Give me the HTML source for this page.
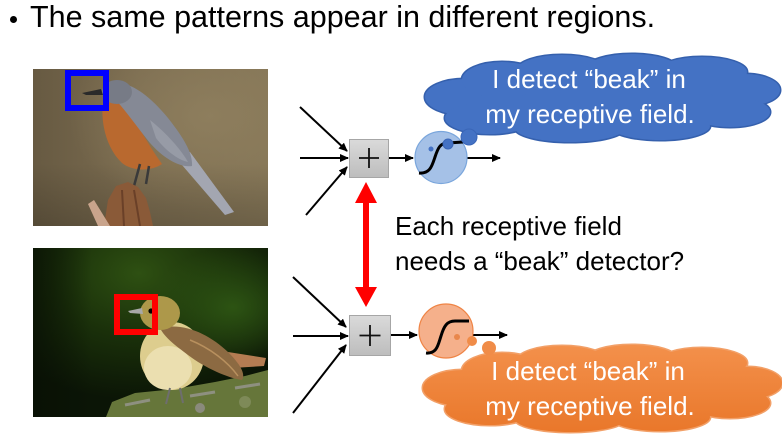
<!DOCTYPE html>
<html>
<head>
<meta charset="utf-8">
<style>
html,body{margin:0;padding:0;background:#fff;}
body{width:782px;height:436px;overflow:hidden;}
svg{display:block;}
text{font-family:"Liberation Sans",Arial,sans-serif;}
</style>
</head>
<body>
<svg width="782" height="436" viewBox="0 0 782 436" xmlns="http://www.w3.org/2000/svg">
<defs>
  <marker id="ah" markerWidth="9" markerHeight="8" refX="8" refY="4" orient="auto" markerUnits="userSpaceOnUse">
    <path d="M0,0 L9,4 L0,8 z" fill="#000"/>
  </marker>
  <linearGradient id="bg1" x1="0" y1="0" x2="1" y2="0">
    <stop offset="0" stop-color="#675a42"/>
    <stop offset="0.45" stop-color="#7b6c50"/>
    <stop offset="1" stop-color="#857657"/>
  </linearGradient>
  <radialGradient id="bg1r" cx="0.75" cy="0.3" r="0.6">
    <stop offset="0" stop-color="#8f7f5e" stop-opacity="0.9"/>
    <stop offset="1" stop-color="#8f7f5e" stop-opacity="0"/>
  </radialGradient>
  <linearGradient id="bg1b" x1="0" y1="0" x2="0" y2="1">
    <stop offset="0.6" stop-color="#000" stop-opacity="0"/>
    <stop offset="1" stop-color="#000" stop-opacity="0.18"/>
  </linearGradient>
  <radialGradient id="bg2" cx="0.45" cy="0.15" r="0.75">
    <stop offset="0" stop-color="#2e5012"/>
    <stop offset="0.5" stop-color="#1a300a"/>
    <stop offset="1" stop-color="#0b1506"/>
  </radialGradient>
  <radialGradient id="bg2b" cx="0.85" cy="0.35" r="0.35">
    <stop offset="0" stop-color="#2f5814" stop-opacity="0.9"/>
    <stop offset="1" stop-color="#2f5814" stop-opacity="0"/>
  </radialGradient>
  <linearGradient id="bg2l" x1="0" y1="0" x2="1" y2="0">
    <stop offset="0" stop-color="#080f04" stop-opacity="0.7"/>
    <stop offset="0.25" stop-color="#080f04" stop-opacity="0"/>
  </linearGradient>
  <linearGradient id="gbox" x1="0" y1="0" x2="0" y2="1">
    <stop offset="0" stop-color="#dadada"/>
    <stop offset="1" stop-color="#bdbdbd"/>
  </linearGradient>
  <linearGradient id="gor" gradientUnits="userSpaceOnUse" x1="0" y1="55" x2="0" y2="142">
    <stop offset="0" stop-color="#f3904b"/>
    <stop offset="1" stop-color="#e9772a"/>
  </linearGradient>
  <clipPath id="c1"><rect x="33" y="69" width="235" height="157"/></clipPath>
  <clipPath id="c2"><rect x="33" y="248" width="235" height="169"/></clipPath>
</defs>

<!-- Title -->
<circle cx="13.5" cy="19.5" r="3.5" fill="#000"/>
<text x="30" y="27" font-size="30.5" fill="#000">The same patterns appear in different regions.</text>

<!-- Image 1 -->
<g clip-path="url(#c1)">
  <rect x="33" y="69" width="235" height="157" fill="url(#bg1)"/>
  <rect x="33" y="69" width="235" height="157" fill="url(#bg1r)"/>
  <rect x="33" y="69" width="235" height="157" fill="url(#bg1b)"/>
  <!-- tail -->
  <polygon points="176,158 190,152 234,212 225,215" fill="#a3a6b1"/>
  <!-- orange breast -->
  <path d="M104,96 C99,120 106,148 122,163 C133,172 152,171 162,164 C152,150 140,130 130,112 C121,101 112,96 104,96 Z" fill="#b9692f"/>
  <!-- gray back/wing -->
  <path d="M108,84 C128,78 150,96 168,118 C182,136 193,152 192,166 C180,168 163,158 150,143 C137,127 124,108 112,96 Z" fill="#858995"/>
  <path d="M150,120 C165,132 180,148 188,162 C178,160 165,150 156,138 Z" fill="#979ba6"/>
  <!-- head -->
  <ellipse cx="117" cy="92" rx="15" ry="12" fill="#777b86"/>
  <polygon points="82,93 101,89 103,95 86,95" fill="#2a2a2a"/>
  <circle cx="106" cy="91" r="1.8" fill="#1a1a1a"/>
  <!-- legs -->
  <path d="M140,164 L134,186 M149,166 L146,184" stroke="#3a3a3a" stroke-width="2.5"/>
  <!-- stump -->
  <polygon points="104,226 108,200 116,186 128,182 138,187 146,198 150,212 153,226" fill="#8a5a38"/>
  <polygon points="88,204 94,200 110,226 98,226" fill="#c9a48c"/>
  <path d="M122,190 L124,226 M134,190 L140,226" stroke="#6a4028" stroke-width="2"/>
  <!-- blue box -->
  <rect x="68" y="73" width="38" height="35" fill="none" stroke="#0000ff" stroke-width="6"/>
</g>

<!-- Image 2 -->
<g clip-path="url(#c2)">
  <rect x="33" y="248" width="235" height="169" fill="url(#bg2)"/>
  <rect x="33" y="248" width="235" height="169" fill="url(#bg2b)"/>
  <rect x="33" y="248" width="235" height="169" fill="url(#bg2l)"/>
  <!-- rock -->
  <polygon points="106,417 112,402 135,393 175,389 215,382 245,376 268,370 268,417" fill="#66763a"/>
  <path d="M125,405 L150,400 M190,396 L215,392 M235,388 L260,384" stroke="#8e9080" stroke-width="3"/>
  <circle cx="200" cy="408" r="5" fill="#8a8a7c"/>
  <circle cx="245" cy="402" r="6" fill="#7e8a58"/>
  <!-- tail -->
  <polygon points="228,352 266,358 264,366 232,368" fill="#b47c52"/>
  <!-- body -->
  <ellipse cx="172" cy="356" rx="32" ry="34" fill="#ddcd8e"/>
  <ellipse cx="168" cy="368" rx="24" ry="22" fill="#ebdfb0"/>
  <!-- wing -->
  <path d="M160,328 C185,322 210,335 228,352 C240,364 246,374 242,380 C228,378 205,368 188,355 C175,345 165,338 160,328 Z" fill="#8c6a42"/>
  <path d="M190,340 C210,348 228,362 238,376" stroke="#b8905e" stroke-width="1.5" fill="none"/>
  <!-- head -->
  <ellipse cx="160" cy="313" rx="20" ry="17" fill="#ad984a"/>
  <polygon points="128,311 142,308 143,314 130,313" fill="#a8a8a8"/>
  <circle cx="151" cy="311" r="2.6" fill="#000"/>
  <!-- legs -->
  <path d="M170,388 L166,404 M180,388 L183,403" stroke="#6e6e6e" stroke-width="2"/>
  <!-- red box -->
  <rect x="117" y="297" width="38" height="35" fill="none" stroke="#ff0000" stroke-width="6"/>
</g>

<!-- Top neuron -->
<g stroke="#000" stroke-width="2" fill="none" marker-end="url(#ah)">
  <line x1="300" y1="107" x2="347" y2="151"/>
  <line x1="300" y1="158" x2="348" y2="158"/>
  <line x1="306" y1="215" x2="347" y2="167"/>
  <line x1="389" y1="158" x2="413" y2="158"/>
  <line x1="467" y1="158" x2="500" y2="158"/>
</g>
<rect x="349.5" y="139.5" width="39" height="38" fill="url(#gbox)" stroke="#a6a6a6" stroke-width="1"/>
<path d="M369,148 L369,168 M359,158 L379,158" stroke="#111" stroke-width="1.8"/>
<circle cx="441" cy="157.5" r="26" fill="#a5c1e7" stroke="#7aa6dc" stroke-width="1.2"/>
<path d="M419,173 C430,174 432,166 435,157 C438,148 440,143 448,143 L463,142" stroke="#000" stroke-width="3" fill="none"/>

<!-- Bottom neuron -->
<g stroke="#000" stroke-width="2" fill="none" marker-end="url(#ah)">
  <line x1="293" y1="277" x2="346" y2="327"/>
  <line x1="293" y1="336" x2="348" y2="336"/>
  <line x1="293" y1="413" x2="346" y2="345"/>
  <line x1="391" y1="335" x2="417" y2="335"/>
  <line x1="473" y1="335" x2="507" y2="335"/>
</g>
<rect x="349.5" y="315.5" width="41" height="40" fill="url(#gbox)" stroke="#a6a6a6" stroke-width="1"/>
<path d="M370,325 L370,346 M359.5,335.5 L380.5,335.5" stroke="#111" stroke-width="1.8"/>
<circle cx="446" cy="331" r="27" fill="#f5b08b" stroke="#ef8445" stroke-width="1.2"/>
<path d="M426,353 C437,354 438,345 441,336 C444,326 447,321 455,321 L469,321" stroke="#000" stroke-width="3" fill="none"/>

<!-- Red double arrow -->
<polygon points="366,182 377,203 369,203 369,287 377,287 366,307 355,287 363,287 363,203 355,203" fill="#ff0000"/>

<!-- Middle text -->
<text x="395" y="235" font-size="26" fill="#000">Each receptive field</text>
<text x="395" y="270" font-size="26" fill="#000">needs a “beak” detector?</text>

<!-- Blue cloud -->
<g>
  <g fill="none" stroke="#3560ad" stroke-width="3">
    <ellipse cx="600" cy="100" rx="150" ry="32"/>
    <ellipse cx="465" cy="97" rx="40" ry="18"/>
    <ellipse cx="502" cy="80" rx="40" ry="18"/>
    <ellipse cx="562" cy="70" rx="45" ry="15"/>
    <ellipse cx="632" cy="68" rx="45" ry="14"/>
    <ellipse cx="702" cy="72" rx="45" ry="15"/>
    <ellipse cx="745" cy="90" rx="35" ry="16"/>
    <ellipse cx="730" cy="112" rx="40" ry="15"/>
    <ellipse cx="660" cy="126" rx="50" ry="14"/>
    <ellipse cx="570" cy="128" rx="55" ry="14"/>
    <ellipse cx="490" cy="118" rx="45" ry="16"/>
  </g>
  <g fill="#4472c4">
    <ellipse cx="600" cy="100" rx="150" ry="32"/>
    <ellipse cx="465" cy="97" rx="40" ry="18"/>
    <ellipse cx="502" cy="80" rx="40" ry="18"/>
    <ellipse cx="562" cy="70" rx="45" ry="15"/>
    <ellipse cx="632" cy="68" rx="45" ry="14"/>
    <ellipse cx="702" cy="72" rx="45" ry="15"/>
    <ellipse cx="745" cy="90" rx="35" ry="16"/>
    <ellipse cx="730" cy="112" rx="40" ry="15"/>
    <ellipse cx="660" cy="126" rx="50" ry="14"/>
    <ellipse cx="570" cy="128" rx="55" ry="14"/>
    <ellipse cx="490" cy="118" rx="45" ry="16"/>
  </g>
</g>
<circle cx="469" cy="137" r="8" fill="#4472c4" stroke="#3a66b8" stroke-width="1"/>
<circle cx="448" cy="144" r="5" fill="#4472c4" stroke="#3a66b8" stroke-width="1"/>
<circle cx="431" cy="149" r="2.5" fill="#4472c4"/>
<text x="589" y="88" font-size="26" fill="#fff" text-anchor="middle">I detect “beak” in</text>
<text x="590" y="123" font-size="26" fill="#fff" text-anchor="middle">my receptive field.</text>

<!-- Orange cloud -->
<g transform="translate(0,291)">
  <g fill="none" stroke="#f2a068" stroke-width="3">
    <ellipse cx="600" cy="100" rx="150" ry="32"/>
    <ellipse cx="463" cy="97" rx="40" ry="18"/>
    <ellipse cx="502" cy="80" rx="40" ry="18"/>
    <ellipse cx="562" cy="70" rx="45" ry="15"/>
    <ellipse cx="632" cy="68" rx="45" ry="14"/>
    <ellipse cx="702" cy="72" rx="45" ry="15"/>
    <ellipse cx="747" cy="92" rx="35" ry="16"/>
    <ellipse cx="730" cy="112" rx="40" ry="15"/>
    <ellipse cx="660" cy="126" rx="50" ry="14"/>
    <ellipse cx="570" cy="128" rx="55" ry="13"/>
    <ellipse cx="490" cy="118" rx="45" ry="16"/>
  </g>
  <g fill="url(#gor)">
    <ellipse cx="600" cy="100" rx="150" ry="32"/>
    <ellipse cx="463" cy="97" rx="40" ry="18"/>
    <ellipse cx="502" cy="80" rx="40" ry="18"/>
    <ellipse cx="562" cy="70" rx="45" ry="15"/>
    <ellipse cx="632" cy="68" rx="45" ry="14"/>
    <ellipse cx="702" cy="72" rx="45" ry="15"/>
    <ellipse cx="747" cy="92" rx="35" ry="16"/>
    <ellipse cx="730" cy="112" rx="40" ry="15"/>
    <ellipse cx="660" cy="126" rx="50" ry="14"/>
    <ellipse cx="570" cy="128" rx="55" ry="13"/>
    <ellipse cx="490" cy="118" rx="45" ry="16"/>
  </g>
</g>
<circle cx="489" cy="348" r="7" fill="#f08c48"/>
<circle cx="472" cy="341" r="5" fill="#f08c48"/>
<circle cx="457" cy="337" r="3" fill="#e9874c"/>
<text x="588" y="380" font-size="26" fill="#fff" text-anchor="middle">I detect “beak” in</text>
<text x="590" y="415" font-size="26" fill="#fff" text-anchor="middle">my receptive field.</text>
</svg>
</body>
</html>
